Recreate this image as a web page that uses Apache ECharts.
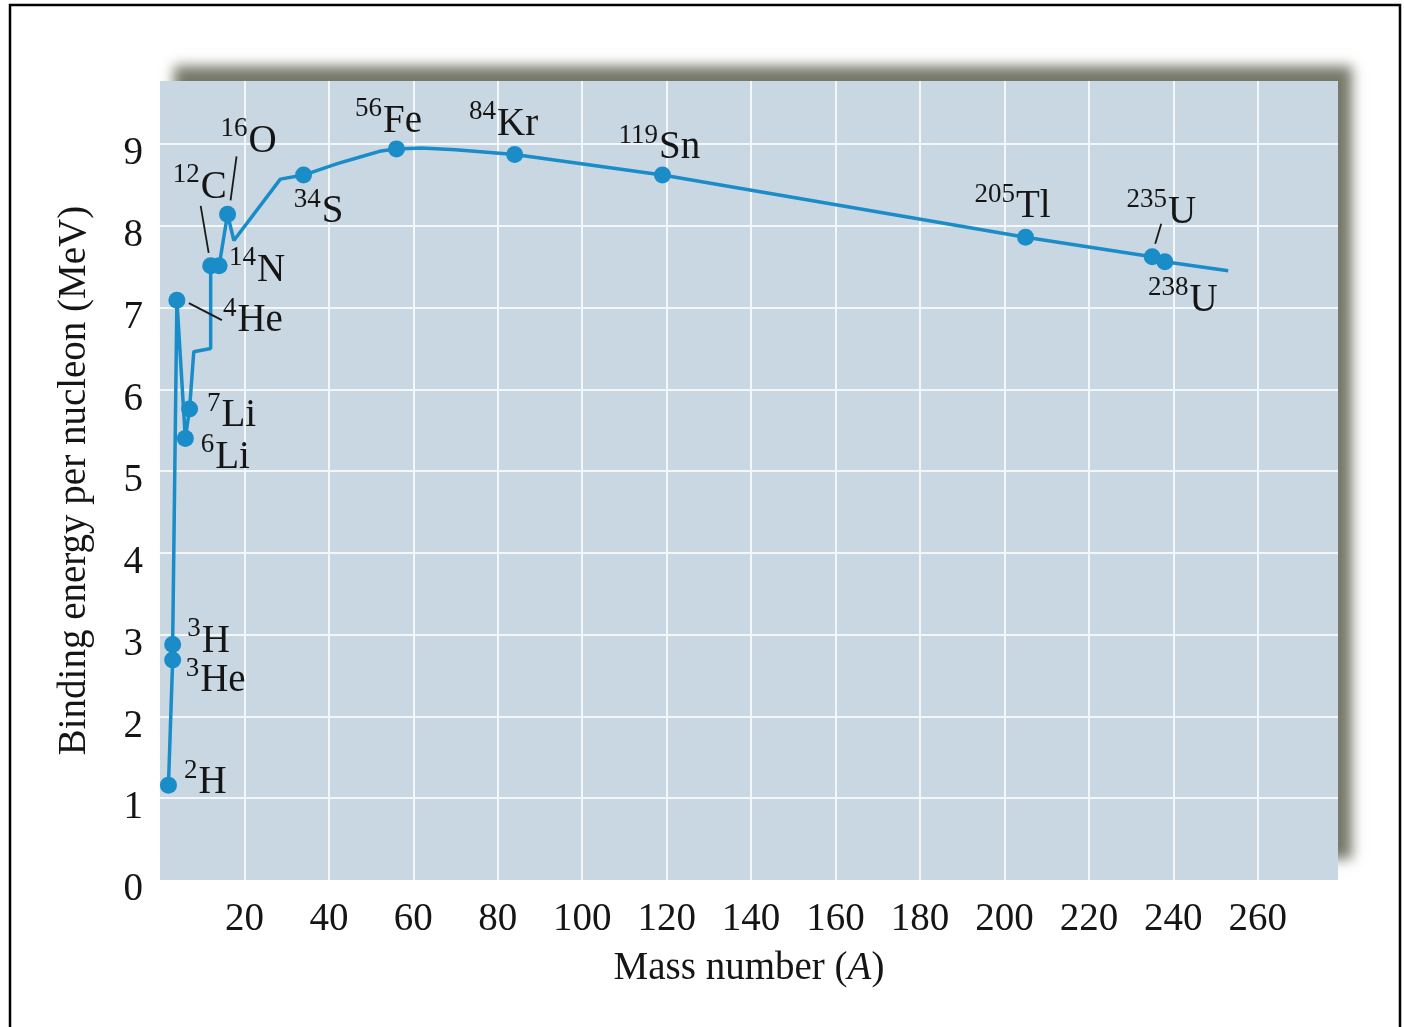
<!DOCTYPE html>
<html>
<head>
<meta charset="utf-8">
<title>Binding energy per nucleon</title>
<script src="https://cdn.jsdelivr.net/npm/echarts@6/dist/echarts.min.js"></script>
<style>
  html, body { margin: 0; padding: 0; background: #ffffff; }
  #main { width: 1404px; height: 1027px; }
</style>
</head>
<body>
<div id="main"></div>
<script>
// Labelled nuclides: mass number A, element symbol, binding energy per nucleon (MeV)
const isoMass   = [2, 3, 3, 4, 6, 7, 12, 14, 16, 34, 56, 84, 119, 205, 235, 238];
const isoSymbol = ['H', 'H', 'He', 'He', 'Li', 'Li', 'C', 'N', 'O', 'S', 'Fe', 'Kr', 'Sn', 'Tl', 'U', 'U'];
const isoBE     = [1.16, 2.88, 2.69, 7.09, 5.40, 5.76, 7.51, 7.51, 8.14, 8.62, 8.94, 8.87, 8.62, 7.86, 7.62, 7.56];

// Vertices of the connecting curve (A, MeV)
const curveA  = [2, 3, 3, 4, 6, 7, 8, 12, 12, 14, 16, 17.5, 28.5, 34, 42, 48, 52, 56, 62, 70, 84, 119, 205, 235, 238, 253];
const curveBE = [1.16, 2.69, 2.88, 7.09, 5.40, 5.76, 6.46, 6.50, 7.51, 7.51, 8.14, 7.82, 8.57, 8.62, 8.76, 8.85, 8.91, 8.94, 8.95, 8.93, 8.87, 8.62, 7.86, 7.62, 7.56, 7.45];

// Tick labels
const xTickLabels = [20, 40, 60, 80, 100, 120, 140, 160, 180, 200, 220, 240, 260];
const yTickLabels = [0, 1, 2, 3, 4, 5, 6, 7, 8, 9];

// Label placement (pixel offset of label centre from its marker), same order as isoMass
const labelOffset = [
  [37, -2], [36, -3], [43, 21], [76, 21], [40, 19], [42, 7],
  [-11, -78], [38, 5], [21, -73], [15, 37], [-8, -27], [-11, -30],
  [-3, -27], [-13, -30], [9, -44], [18, 39]
];
// Leader lines: index of nuclide, start and end offsets from its marker (pixels)
const leaders = [
  { i: 6,  from: [-10, -60], to: [-2, -13] },
  { i: 8,  from: [9, -58],   to: [3, -14] },
  { i: 3,  from: [12, 3],    to: [45, 20] },
  { i: 14, from: [9, -33],   to: [3, -13] }
];

const FONT = '"Liberation Serif", "DejaVu Serif", serif';
const INK = '#151515';
const BLUE = '#1a8cc8';
const FS = 39;
const X_MAX = 279;
const Y_MAX = 9.77;

const curveData = curveA.map((a, k) => [a, curveBE[k]]);
const isoData = isoMass.map((a, k) => ({
  value: [a, isoBE[k]],
  label: { offset: labelOffset[k] }
}));

const chart = echarts.init(document.getElementById('main'), null, { renderer: 'canvas' });

chart.setOption({
  animation: false,
  backgroundColor: '#ffffff',
  grid: { left: 160, right: 66, top: 81, bottom: 147 },
  xAxis: {
    type: 'value',
    min: 0,
    max: X_MAX,
    interval: 20,
    axisLine: { show: false },
    axisTick: { show: false },
    axisLabel: {
      fontFamily: FONT, fontSize: FS, color: INK, margin: 20,
      showMinLabel: false, showMaxLabel: false,
      formatter: v => (xTickLabels.indexOf(v) >= 0 ? String(v) : '')
    },
    splitLine: { showMinLine: false, showMaxLine: false, lineStyle: { color: '#f3f7fa', width: 2 } },
    name: 'Mass number ({i|A})',
    nameLocation: 'middle',
    nameGap: 69,
    nameTextStyle: {
      fontFamily: FONT, fontSize: FS, color: INK,
      rich: { i: { fontFamily: FONT, fontSize: FS, fontStyle: 'italic', color: INK } }
    }
  },
  yAxis: {
    type: 'value',
    min: 0,
    max: Y_MAX,
    interval: 1,
    axisLine: { show: false },
    axisTick: { show: false },
    axisLabel: {
      fontFamily: FONT, fontSize: FS, color: INK, margin: 17,
      verticalAlign: 'top',
      lineHeight: 20,
      showMaxLabel: false,
      formatter: v => (yTickLabels.indexOf(v) >= 0 ? String(v) : '')
    },
    splitLine: { showMinLine: false, showMaxLine: false, lineStyle: { color: '#f3f7fa', width: 2 } },
    name: 'Binding energy per nucleon (MeV)',
    nameLocation: 'middle',
    nameGap: 66,
    nameTextStyle: { fontFamily: FONT, fontSize: FS, color: INK }
  },
  series: [
    {
      type: 'line',
      data: curveData,
      showSymbol: false,
      smooth: false,
      lineStyle: { color: BLUE, width: 3.5 },
      z: 3,
      silent: true
    },
    {
      type: 'scatter',
      data: isoData,
      symbol: 'circle',
      symbolSize: 17,
      itemStyle: { color: BLUE, opacity: 1 },
      z: 4,
      label: {
        show: true,
        position: 'inside',
        align: 'center',
        verticalAlign: 'middle',
        formatter: p => '{s|' + isoMass[p.dataIndex] + '}{e|' + isoSymbol[p.dataIndex] + '}',
        rich: {
          s: { fontFamily: FONT, fontSize: 27, color: INK, lineHeight: 27, padding: [0, 1, 25, 0] },
          e: { fontFamily: FONT, fontSize: FS, color: INK, lineHeight: 40 }
        }
      }
    }
  ]
});

// Frame, drop shadow, plot background and leader lines, positioned from the axes
function decorate() {
  const p0 = chart.convertToPixel({ gridIndex: 0 }, [0, 0]);
  const p1 = chart.convertToPixel({ gridIndex: 0 }, [X_MAX, Y_MAX]);
  const gx = p0[0], gy = p1[1], gw = p1[0] - p0[0], gh = p0[1] - p1[1];
  const SHIFT = 4000; // the shadow caster sits off-canvas; only its blurred shadow shows

  const elements = [
    {
      type: 'rect', z: -30, silent: true,
      shape: { x: 10, y: 5, width: 1390, height: 1030 },
      style: { fill: 'none', stroke: '#000000', lineWidth: 2.5 }
    },
    {
      type: 'rect', z: -20, silent: true,
      shape: { x: gx + 14 - SHIFT, y: gy - 15, width: gw, height: gh - 6 },
      style: {
        fill: '#7f8276',
        shadowBlur: 12,
        shadowColor: 'rgba(118,121,106,1)',
        shadowOffsetX: SHIFT,
        shadowOffsetY: 0
      }
    },
    {
      type: 'rect', z: -10, silent: true,
      shape: { x: gx, y: gy, width: gw, height: gh },
      style: { fill: '#c8d7e2' }
    }
  ];

  leaders.forEach(l => {
    const c = chart.convertToPixel({ gridIndex: 0 }, [isoMass[l.i], isoBE[l.i]]);
    elements.push({
      type: 'line', z: 5, silent: true,
      shape: { x1: c[0] + l.from[0], y1: c[1] + l.from[1], x2: c[0] + l.to[0], y2: c[1] + l.to[1] },
      style: { stroke: '#1a1a1a', lineWidth: 1.8 }
    });
  });

  chart.setOption({ graphic: { elements } });
}
decorate();
</script>
</body>
</html>
